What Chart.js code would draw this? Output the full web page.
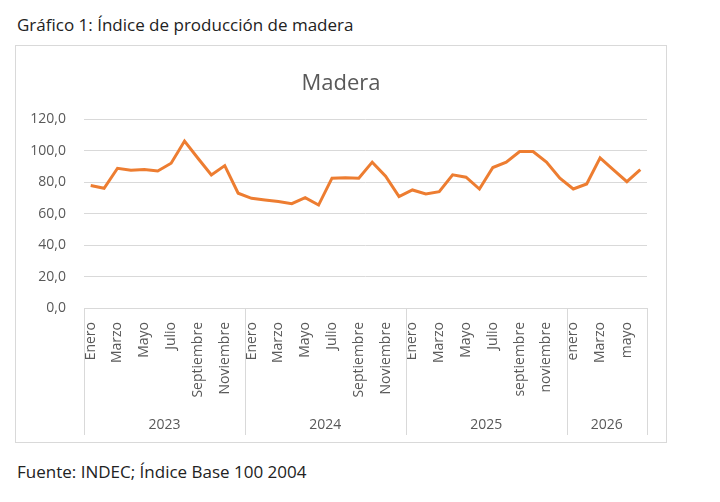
<!DOCTYPE html>
<html lang="es">
<head>
<meta charset="utf-8">
<title>Índice de producción de madera</title>
<script src="https://cdn.jsdelivr.net/npm/chart.js@4.4.1/dist/chart.umd.min.js"></script>
<style>
  html, body { margin: 0; padding: 0; background: #fff; }
  body { width: 720px; height: 502px; position: relative; font-family: "Open Sans", sans-serif; color: #222; }
  .caption { position: absolute; left: 17px; font-size: 17px; line-height: 22px; white-space: nowrap; }
  #heading { top: 14px; }
  #source { top: 461px; }
  #box { position: absolute; left: 15px; top: 45px; width: 650px; height: 396px; border: 1px solid #d9d9d9; }
  #madera-chart { display: block; }
</style>
</head>
<body>
<div id="heading" class="caption">Gráfico 1: Índice de producción de madera</div>
<div id="box"><canvas id="madera-chart" width="650" height="396"></canvas></div>
<div id="source" class="caption">Fuente: INDEC; Índice Base 100 2004</div>

<script>
// Month labels, as they appear in the source (case kept)
const months2023 = ['Enero', 'Febrero', 'Marzo', 'Abril', 'Mayo', 'Junio', 'Julio', 'Agosto', 'Septiembre', 'Octubre', 'Noviembre', 'Diciembre'];
const months2024 = ['Enero', 'Febrero', 'Marzo', 'Abril', 'Mayo', 'Junio', 'Julio', 'Agosto', 'Septiembre', 'Octubre', 'Noviembre', 'Diciembre'];
const months2025 = ['Enero', 'Febrero', 'Marzo', 'Abril', 'Mayo', 'Junio', 'Julio', 'Agosto', 'septiembre', 'octubre', 'noviembre', 'diciembre'];
const months2026 = ['enero', 'febrero', 'Marzo', 'abril', 'mayo', 'junio'];

// Year groups shown under the month labels
const years = ['2023', '2024', '2025', '2026'];

// Index values
const values2023 = [77.9, 76.2, 88.9, 87.7, 88.1, 87.2, 92.1, 106.2, 95.3, 84.7, 90.6, 73.0];
const values2024 = [69.8, 68.7, 67.7, 66.4, 70.2, 65.5, 82.6, 82.8, 82.6, 92.8, 83.8, 70.9];
const values2025 = [75.1, 72.6, 74.0, 84.7, 83.2, 75.7, 89.4, 92.8, 99.6, 99.6, 92.8, 82.6];
const values2026 = [75.7, 78.9, 95.5, 87.9, 80.4, 88.1];

// Y axis ticks
const yTicks = [0, 20, 40, 60, 80, 100, 120];

const monthGroups = [months2023, months2024, months2025, months2026];
const labels = monthGroups.flat();
const values = [values2023, values2024, values2025, values2026].flat();

const gridColor = '#d9d9d9';
const textColor = '#595959';

// Draws the year row and the separators under the category axis
const yearAxis = {
    id: 'yearAxis',
    afterDraw(chart) {
        const x = chart.scales.x;
        const ctx = chart.ctx;
        const edge = (i) => {
            if (i === 0) return x.left;
            if (i === labels.length) return x.right;
            return (x.getPixelForValue(i - 1) + x.getPixelForValue(i)) / 2;
        };
        ctx.save();
        ctx.strokeStyle = gridColor;
        ctx.lineWidth = 1;
        ctx.fillStyle = textColor;
        ctx.font = '14px "Open Sans", sans-serif';
        ctx.textAlign = 'center';
        ctx.textBaseline = 'middle';
        let start = 0;
        for (let g = 0; g <= monthGroups.length; g++) {
            const px = Math.round(edge(start)) + 0.5;
            ctx.beginPath();
            ctx.moveTo(px, x.top);
            ctx.lineTo(px, x.bottom);
            ctx.stroke();
            if (g < monthGroups.length) {
                const end = start + monthGroups[g].length;
                ctx.fillText(years[g], (edge(start) + edge(end)) / 2, x.bottom - 10);
                start = end;
            }
        }
        ctx.restore();
    }
};

new Chart(document.getElementById('madera-chart'), {
    type: 'line',
    data: {
        labels: labels,
        datasets: [{
            label: 'Madera',
            data: values,
            borderColor: '#ed7d31',
            borderWidth: 3,
            pointRadius: 0,
            tension: 0,
            fill: false
        }]
    },
    options: {
        responsive: false,
        animation: false,
        layout: { padding: { left: 0, right: 0, top: 0, bottom: 7 } },
        plugins: {
            legend: { display: false },
            tooltip: { enabled: false },
            title: {
                display: true,
                text: 'Madera',
                color: textColor,
                font: { family: '"Open Sans", sans-serif', size: 22, weight: 'normal' },
                padding: { top: 25, bottom: 22 }
            }
        },
        scales: {
            x: {
                offset: true,
                grid: { display: false },
                border: { display: true, color: gridColor },
                ticks: {
                    autoSkip: false,
                    maxRotation: 90,
                    minRotation: 90,
                    padding: 6,
                    color: textColor,
                    font: { family: '"Open Sans", sans-serif', size: 14 },
                    callback: (v, i) => (i % 2 === 0 ? labels[i] : '')
                },
                afterFit: (scale) => { scale.height = 127; }
            },
            y: {
                min: 0,
                max: 120,
                afterBuildTicks: (scale) => { scale.ticks = yTicks.map(v => ({ value: v })); },
                grid: { color: gridColor, drawTicks: false },
                border: { display: false },
                ticks: {
                    padding: 18,
                    color: textColor,
                    font: { family: '"Open Sans", sans-serif', size: 14 },
                    callback: (v) => v.toFixed(1).replace('.', ',')
                },
                afterFit: (scale) => { scale.width = 68; }
            },
            // empty right margin so the title centres on the whole box
            yRight: {
                position: 'right',
                grid: { display: false },
                border: { display: false },
                ticks: { display: false },
                afterFit: (scale) => { scale.width = 19; }
            }
        }
    },
    plugins: [yearAxis]
});
</script>
</body>
</html>
